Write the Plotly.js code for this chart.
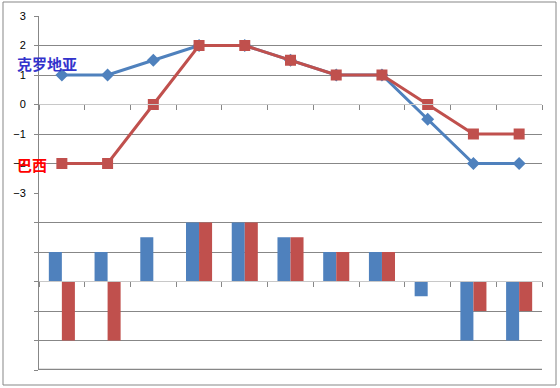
<!DOCTYPE html>
<html><head><meta charset="utf-8">
<script src="https://cdn.plot.ly/plotly-3.0.1.min.js"></script>
<style>html,body{margin:0;padding:0;background:#fff}</style>
</head><body><div id="chart" style="width:560px;height:388px"></div>
<script>
var categories = [0,1,2,3,4,5,6,7,8,9,10];
var croatia = [1, 1, 1.5, 2, 2, 1.5, 1, 1, -0.5, -2, -2];
var brazil = [-2, -2, 0, 2, 2, 1.5, 1, 1, 0, -1, -1];
var yTicks = [-3,-2,-1,0,1,2,3];
var boundaries = [-0.5,0.5,1.5,2.5,3.5,4.5,5.5,6.5,7.5,8.5,9.5,10.5];
var labelCroatia = '克罗地亚';
var labelBrazil = '巴西';

var blue = '#4F81BD', red = '#C0504D', grid = '#878787';

var traces = [
  {x: categories, y: croatia, type: 'scatter', mode: 'lines+markers', xaxis: 'x', yaxis: 'y',
   line: {color: blue, width: 3}, marker: {symbol: 'diamond', size: 10, color: blue}},
  {x: categories, y: brazil, type: 'scatter', mode: 'lines+markers', xaxis: 'x', yaxis: 'y',
   line: {color: red, width: 3}, marker: {symbol: 'square', size: 11, color: red}},
  {x: categories, y: croatia, type: 'bar', xaxis: 'x2', yaxis: 'y2', marker: {color: blue}},
  {x: categories, y: brazil, type: 'bar', xaxis: 'x2', yaxis: 'y2', marker: {color: red}}
];

var xCommon = {range: [-0.5, 10.5], tickvals: boundaries, showticklabels: false, ticks: 'outside',
  ticklen: 5, tickcolor: grid, showgrid: false, zeroline: false, showline: true, linecolor: '#C8C8C8',
  linewidth: 1, fixedrange: true};

var layout = {
  width: 560, height: 388,
  margin: {l: 39, r: 18, t: 16, b: 18},
  paper_bgcolor: '#fff', plot_bgcolor: '#fff',
  showlegend: false,
  barmode: 'group', bargap: 0.43, bargroupgap: 0,
  font: {family: 'Liberation Sans, Arial, sans-serif', size: 11, color: '#000'},
  xaxis: Object.assign({}, xCommon, {anchor: 'free', position: (370-104)/354}),
  xaxis2: Object.assign({}, xCommon, {anchor: 'free', position: (370-281)/354}),
  xaxis3: {overlaying: 'x2', anchor: 'y2', side: 'bottom', range: [-0.5, 10.5], showline: true,
    linecolor: grid, linewidth: 1, showgrid: false, zeroline: false, showticklabels: false, ticks: ''},
  yaxis: {domain: [0.5, 1], range: [-3, 3], tickvals: yTicks, ticks: 'outside', ticklen: 4,
    ticklabelstandoff: 6,
    tickcolor: grid, showgrid: true, gridcolor: grid, gridwidth: 1, zeroline: false,
    showline: true, linecolor: grid, linewidth: 1, anchor: 'x', position: 0},
  yaxis2: {domain: [0, 0.5], range: [-3, 3], tickvals: yTicks, showticklabels: false, ticks: 'outside',
    ticklen: 4, tickcolor: grid, showgrid: true, gridcolor: grid, gridwidth: 1, zeroline: false,
    showline: true, linecolor: grid, linewidth: 1, anchor: 'x2'},
  annotations: [
    {text: '<b>' + labelCroatia + '</b>', xref: 'paper', yref: 'paper', x: (47-39)/503, y: (370-63.5)/354,
     xanchor: 'center', yanchor: 'middle', showarrow: false,
     font: {family: 'Noto Sans CJK SC', size: 15, color: '#3333CC'}},
    {text: '<b>' + labelBrazil + '</b>', xref: 'paper', yref: 'paper', x: (32-39)/503, y: (370-164.5)/354,
     xanchor: 'center', yanchor: 'middle', showarrow: false,
     font: {family: 'Noto Sans CJK SC', size: 15, color: '#FF0000'}}
  ],
  shapes: [
    {type: 'rect', xref: 'paper', yref: 'paper', x0: (3-39)/503, x1: (556-39)/503,
     y0: (370-385)/354, y1: (370-2)/354, line: {color: grid, width: 1}},
    {type: 'line', xref: 'paper', yref: 'paper', x0: 0, x1: 1, y0: 0.002, y1: 0.002,
     line: {color: grid, width: 1.2}, layer: 'above'}
  ]
};

Plotly.newPlot('chart', traces, layout, {displayModeBar: false, staticPlot: true});
</script>
</body></html>
